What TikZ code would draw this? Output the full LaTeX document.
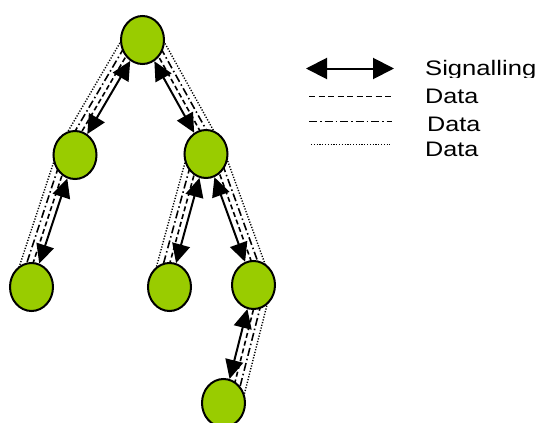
\documentclass[tikz,border=0pt]{standalone}
\usepackage{fontspec}
\setmainfont{Liberation Sans}
\usetikzlibrary{arrows.meta,calc,shapes.geometric}
\pgfdeclarelayer{background}
\pgfsetlayers{background,main}
\definecolor{leaf}{HTML}{99CC00}
\newcommand\datalink[4]{%
  \begin{pgfonlayer}{background}
  \draw[dA] ($(#1)!6pt!#3:(#2)$) -- ($(#2)!6pt!#4:(#1)$);
  \draw[dB] ($(#1)!12pt!#3:(#2)$) -- ($(#2)!12pt!#4:(#1)$);
  \draw[dC] ($(#1)!18pt!#3:(#2)$) -- ($(#2)!18pt!#4:(#1)$);
  \end{pgfonlayer}
  \draw[sig] (#1) -- (#2);
}
\begin{document}
\begin{tikzpicture}[x=1pt,y=-1pt,
  nd/.style={ellipse,draw,line width=2pt,fill=leaf,minimum width=43pt,minimum height=48pt,inner sep=0pt},
  sig/.style={line width=2pt,{Triangle[length=19pt,width=18pt]}-{Triangle[length=19pt,width=18pt]}},
  lsig/.style={line width=2pt,{Triangle[length=21pt,width=21pt]}-{Triangle[length=21pt,width=21pt]}},
  dA/.style={line width=1.6pt,dash pattern=on 5pt off 3pt},
  dB/.style={line width=1.6pt,dash pattern=on 8pt off 3pt on 1.5pt off 3pt},
  dC/.style={line width=1.4pt,dash pattern=on 1.2pt off 1.6pt},
  lbl/.style={anchor=base west,inner sep=0pt,font=\fontsize{21pt}{24pt}\selectfont}
]
\useasboundingbox (0,0) rectangle (539,423);
\node[nd] (root) at (142.5,40) {};
\node[nd] (lm) at (75,155) {};
\node[nd] (rm) at (206,154) {};
\node[nd] (lb) at (31.5,287) {};
\node[nd] (mb) at (169.5,287) {};
\node[nd] (rb) at (253.5,285) {};
\node[nd] (lo) at (223.5,403) {};
\datalink{root}{lm}{-90}{90}
\datalink{root}{rm}{90}{-90}
\datalink{lm}{lb}{-90}{90}
\datalink{rm}{mb}{-90}{90}
\datalink{rm}{rb}{90}{-90}
\datalink{rb}{lo}{90}{-90}
% legend
\coordinate (a1) at (306,68.5);
\coordinate (a2) at (394,68.5);
\coordinate (b1) at (309,96.7);
\coordinate (b2) at (392,96.7);
\coordinate (c1) at (309,121.7);
\coordinate (c2) at (392,121.7);
\coordinate (e1) at (311,144.3);
\coordinate (e2) at (390,144.3);
\draw[lsig] (a1) -- (a2);
\draw[dA,line width=1.4pt,dash pattern=on 6pt off 3.5pt] (b1) -- (b2);
\draw[dB,line width=1.4pt] (c1) -- (c2);
\draw[dC,line width=1.1pt] (e1) -- (e2);
\begin{scope}
\clip (400,40) rectangle (539,77);
\node[lbl] (t1) at (425,75.5) {\scalebox{1.22}[1]{Signalling}};
\end{scope}
\node[lbl] (t2) at (425,103) {\scalebox{1.2}[1]{Data}};
\node[lbl] (t3) at (427,131.5) {\scalebox{1.2}[1]{Data}};
\node[lbl] (t4) at (425,156) {\scalebox{1.2}[1]{Data}};
\end{tikzpicture}
\end{document}
